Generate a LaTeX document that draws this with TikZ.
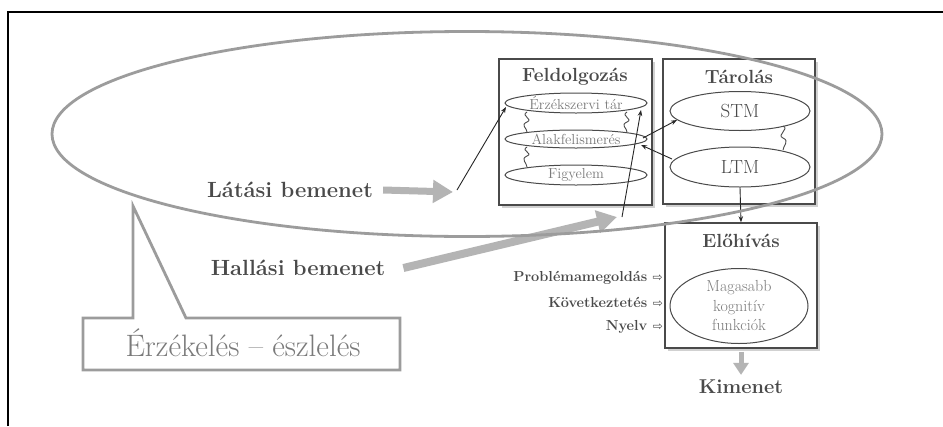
\documentclass[tikz,border=0pt]{standalone}
\usepackage{fontspec}
\newfontfamily\djv{DejaVu Sans}
\usetikzlibrary{shapes.geometric,arrows.meta,shadows,calc}
\definecolor{ink}{HTML}{4A4A4A}
\definecolor{lgray}{HTML}{9C9C9C}
\definecolor{pale}{HTML}{B4B4B4}
\definecolor{softtext}{HTML}{7A7A7A}
\begin{document}
\begin{tikzpicture}[x=1pt,y=-1pt,
  stagebox/.style={draw=ink,line width=1.5pt,fill=white,inner sep=0pt,
    drop shadow={shadow xshift=3pt,shadow yshift=-3pt,fill=black!18,opacity=1}},
  title/.style={font=\bfseries\fontsize{19}{21}\selectfont,text=ink,inner sep=0pt},
  sub/.style={draw=ink,line width=1pt,ellipse,fill=white,inner sep=0pt,
    minimum width=142,minimum height=20,text=softtext,font=\fontsize{14.5}{16}\selectfont},
  mem/.style={draw=ink,line width=1pt,ellipse,fill=white,inner sep=0pt,
    minimum width=140,minimum height=39,text=ink,font=\fontsize{19}{21}\selectfont},
  inlabel/.style={font=\bfseries\fontsize{22}{24}\selectfont,text=ink,inner sep=0pt},
  side/.style={font=\bfseries\fontsize{14.5}{16}\selectfont,text=ink,inner sep=0pt,anchor=east},
  thinarrow/.style={draw=black!85,line width=0.9pt,-{Stealth[length=6pt,width=4.5pt]}},
  squig/.style={draw=ink,line width=0.9pt},
  fat/.style={draw=pale,line width=7pt,-{Triangle[length=20pt,width=22pt]}},
]
\useasboundingbox (0,0) rectangle (943,426);
\fill[white] (0,0) rectangle (943,426);
% frame
\draw[black,line width=1.5pt] (8,426) -- (8,12) -- (943,12);

% boxes
\node[stagebox,minimum width=153,minimum height=146] (feld) at (575.5,132) {};
\node[stagebox,minimum width=152,minimum height=145] (tar) at (739,131.5) {};
\node[stagebox,minimum width=152,minimum height=125] (elo) at (741,285.5) {};

\node[title] (feldt) at (575,77) {Feldolgozás};
\node[title] (tart) at (739,77) {Tárolás};
\node[title] (elot) at (741,241) {Előhívás};

% sub-ellipses
\node[sub] (e1) at (576,103) {Érzékszervi tár};
\node[sub,minimum height=18] (e2) at (576,139) {Alakfelismerés};
\node[sub] (e3) at (576,175) {Figyelem};
\node[mem] (stm) at (740,111) {STM};
\node[mem,minimum height=40] (ltm) at (740,167) {LTM};
\node[ellipse,draw=ink,line width=1pt,minimum width=138,minimum height=75,inner sep=0pt,
  align=center,text=softtext,font=\fontsize{16}{19.5}\selectfont] (hcf) at (739,306)
  {Magasabb\\kognitív\\funkciók};

% squiggles
\draw[squig] ($(e1)+(-49,9)$) .. controls +(-7,4) and +(7,-3) .. ($(e1)+(-49,19)$)
   .. controls +(-7,3) and +(0,-4) .. ($(e2)+(-49,-7)$);
\draw[squig] ($(e1)+(51,9)$) .. controls +(-7,4) and +(7,-3) .. ($(e1)+(51,19)$)
   .. controls +(-7,3) and +(0,-4) .. ($(e2)+(51,-7)$);
\draw[squig] ($(e2)+(-49,8)$) .. controls +(-7,4) and +(7,-3) .. ($(e2)+(-49,17)$)
   .. controls +(-7,3) and +(0,-4) .. ($(e3)+(-49,-8)$);
\draw[squig] ($(stm)+(43,15)$) .. controls +(7,3) and +(-7,-3) .. ($(stm)+(43,27)$)
   .. controls +(7,3) and +(0,-4) .. ($(ltm)+(43,-17)$);

% left labels
\node[inlabel] (lat) at (290,190) {Látási bemenet};
\node[inlabel] (hal) at (298,268) {Hallási bemenet};
\coordinate (vistip) at (453,192);
\coordinate (visin) at (457,190);
\coordinate (audtip) at (617,217);
\coordinate (audin) at (622,217);
\draw[fat] ([xshift=10pt]lat.east) -- (vistip);
\draw[fat,line width=8pt] ([xshift=18pt]hal.east) -- (audtip);

% thin arrows
\draw[thinarrow] (visin) -- ($(e1)+(-70,4)$);
\draw[thinarrow] (audin) -- ($(e1)+(65,7)$);
\draw[thinarrow] ($(e2)+(67,-1)$) -- ($(stm)+(-63,9)$);
\draw[thinarrow] ($(ltm)+(-68,-8)$) -- ($(e2)+(65,6)$);
\draw[thinarrow] (ltm.south) -- (elo.north);

% side labels
\node[side] (pm) at (663,278) {Problémamegoldás {\normalfont\djv\fontsize{12}{14}\selectfont ⇨}};
\node[side] (kk) at (663,302) {Következtetés {\normalfont\djv\fontsize{12}{14}\selectfont ⇨}};
\node[side] (ny) at (663,327) {Nyelv {\normalfont\djv\fontsize{12}{14}\selectfont ⇨}};

% output
\node[font=\bfseries\fontsize{20}{22}\selectfont,text=ink,inner sep=0pt] (kim) at (741,387) {Kimenet};
\draw[draw=pale,line width=5pt,-{Triangle[length=12pt,width=15pt]}] ([yshift=-3pt]elo.south) -- ([yshift=5pt]kim.north);

% big ellipse
\node[ellipse,draw=lgray,line width=2.8pt,minimum width=830,minimum height=205,inner sep=0pt] (sense) at (467,134) {};

% callout
\node[text=softtext,font=\fontsize{31}{33}\selectfont,inner sep=0pt] (perc) at (243,343) {Érzékelés – észlelés};
\draw[lgray,line width=2.8pt,line join=miter] (83,318) -- (133,318) -- (133,206) -- (186,318) -- (400,318) -- (400,370) -- (83,370) -- cycle;
\end{tikzpicture}
\end{document}
